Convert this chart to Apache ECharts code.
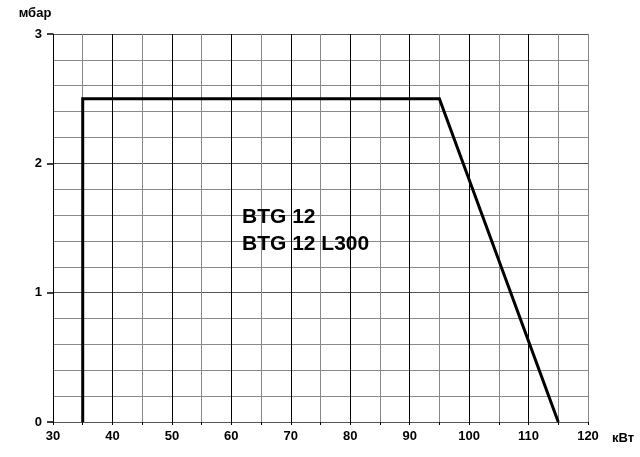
<!DOCTYPE html>
<html>
<head>
<meta charset="utf-8">
<script src="https://cdn.jsdelivr.net/npm/echarts@6/dist/echarts.min.js"></script>
<style>html,body{margin:0;padding:0;background:#fff}#c{width:640px;height:457px}</style>
</head>
<body>
<div id="c"></div>
<script>
const powerKW = [35, 35, 95, 115];
const pressureMbar = [0, 2.5, 2.5, 0];
const modelLabels = ['BTG 12', 'BTG 12 L300'];
const xAxisName = 'кВт';
const yAxisName = 'мбар';

const chart = echarts.init(document.getElementById('c'));
const font = '"Liberation Sans", Arial, sans-serif';
const xColors = [];
for (let v = 30; v <= 120; v += 5) xColors.push(v === 120 ? '#888' : (v % 10 === 0 ? '#000' : '#888'));

const labelStyle = { fontFamily: font, fontWeight: 'bold', fontSize: 13, color: '#000' };

chart.setOption({
  animation: false,
  grid: { left: 53, right: 52, top: 34, bottom: 35 },
  xAxis: {
    type: 'value', min: 30, max: 120, interval: 5,
    name: xAxisName, nameLocation: 'end', nameGap: 24,
    nameTextStyle: Object.assign({}, labelStyle, { verticalAlign: 'top', padding: [10, 0, 0, 0] }),
    axisLine: { lineStyle: { color: '#555', width: 1 } },
    axisTick: { show: true, length: 3, lineStyle: { color: '#000' } },
    axisLabel: Object.assign({}, labelStyle, {
      margin: 8,
      formatter: v => (v % 10 === 0 ? String(v) : '')
    }),
    splitLine: { show: true, lineStyle: { color: xColors, width: 1 } }
  },
  yAxis: {
    type: 'value', min: 0, max: 3, interval: 1,
    name: yAxisName, nameLocation: 'end', nameGap: 14,
    nameTextStyle: Object.assign({}, labelStyle, { align: 'center', padding: [0, 36, 0, 0] }),
    axisLine: { show: true, onZero: false, lineStyle: { color: '#000', width: 1 } },
    axisTick: { show: true, inside: false, length: 6, lineStyle: { color: '#000', width: 1.5 } },
    axisLabel: Object.assign({}, labelStyle, { margin: 11 }),
    splitLine: { show: true, lineStyle: { color: '#555', width: 1 } },
    minorTick: { show: false, splitNumber: 5 },
    minorSplitLine: { show: true, lineStyle: { color: '#8a8a8a', width: 1 } }
  },
  series: [{
    type: 'line',
    data: powerKW.map((x, i) => [x, pressureMbar[i]]),
    symbol: 'none',
    lineStyle: { color: '#000', width: 3, join: 'miter' },
    z: 5
  }],
  graphic: [{
    type: 'text', left: 242, top: 204, z: 100,
    style: { text: modelLabels.join('\n'), font: 'bold 21px ' + font, fill: '#000', lineHeight: 27 }
  }]
});
</script>
</body>
</html>
